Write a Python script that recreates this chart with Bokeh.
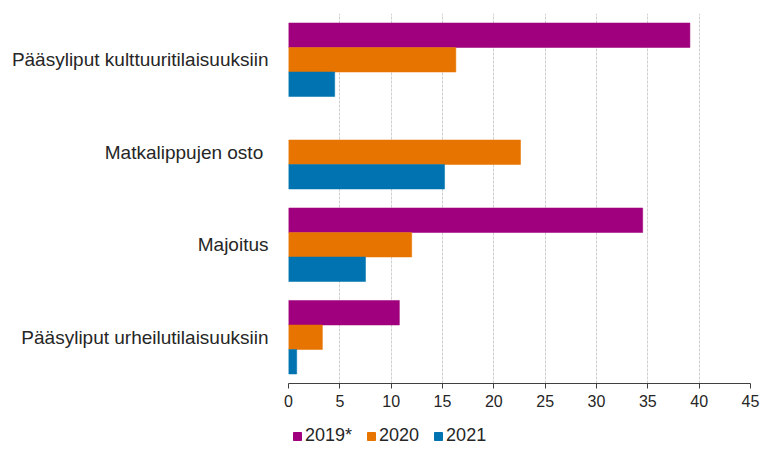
import numpy as np
from bokeh.plotting import figure
from bokeh.layouts import column
from bokeh.models import ColumnDataSource, FactorRange, Range1d, Legend, LegendItem, FixedTicker
from bokeh.transform import dodge
from bokeh.embed import file_html
from bokeh.resources import INLINE

categories = ["Pääsyliput kulttuuritilaisuuksiin", "Matkalippujen osto\u00a0", "Majoitus",
              "Pääsyliput urheilutilaisuuksiin"]
series = ["2019*", "2020", "2021"]
v2019 = np.array([39.1, np.nan, 34.5, 10.8])
v2020 = np.array([16.3, 22.6, 12.0, 3.3])
v2021 = np.array([4.5, 15.2, 7.5, 0.8])
colors = ["#a0007d", "#e87400", "#0073b0"]
x_ticks = [0, 5, 10, 15, 20, 25, 30, 35, 40, 45]

src = ColumnDataSource(dict(cat=categories, v2019=v2019, v2020=v2020, v2021=v2021))

FONT = "Liberation Sans"
p = figure(frame_width=462, frame_height=370, y_range=FactorRange(*reversed(categories)),
           x_range=Range1d(0, 45), output_backend="svg", toolbar_location=None,
           min_border_left=288, min_border_right=13, min_border_top=13, min_border_bottom=0)

bh = 0.265
offsets = [bh, 0.0, -bh]
for col, off, c in zip(["v2019", "v2020", "v2021"], offsets, colors):
    p.hbar(y=dodge("cat", off, range=p.y_range), right=col, left=0, height=bh,
           source=src, fill_color=c, line_color=c, line_alpha=0.5, line_width=1)

p.outline_line_color = None
p.ygrid.grid_line_color = None
p.xgrid.grid_line_color = "#d0d0d0"
p.xgrid.grid_line_dash = "3 1"
p.xgrid.grid_line_width = 1

p.xaxis.ticker = FixedTicker(ticks=x_ticks)
p.xaxis.minor_tick_line_color = None
p.xaxis.major_tick_in = 0
p.xaxis.major_tick_out = 5
p.xaxis.axis_line_color = "#404040"
p.xaxis.major_tick_line_color = "#404040"
p.xaxis.major_label_text_font = FONT
p.xaxis.major_label_text_font_size = "16px"
p.xaxis.major_label_text_color = "#262626"
p.xaxis.major_label_standoff = 6

p.yaxis.axis_line_color = None
p.yaxis.major_tick_line_color = None
p.yaxis.minor_tick_line_color = None
p.yaxis.major_label_text_font = FONT
p.yaxis.major_label_text_font_size = "19px"
p.yaxis.major_label_text_color = "#262626"
p.yaxis.major_label_standoff = 14

# legend strip below the chart (legend glyph carriers sit outside its visible range)
p2 = figure(frame_width=462, frame_height=38, x_range=Range1d(0, 1), y_range=Range1d(0, 1),
            output_backend="svg", toolbar_location=None, x_axis_type=None, y_axis_type=None,
            min_border_left=288, min_border_right=13, min_border_top=0, min_border_bottom=0)
p2.outline_line_color = None
p2.grid.visible = False
leg_renderers = [p2.hbar(y=[-5.0], right=[0.5], left=0, height=0.5, fill_color=c, line_color=c)
                 for c in colors]

legend = Legend(items=[LegendItem(label=s, renderers=[r]) for s, r in zip(series, leg_renderers)],
                orientation="horizontal", location=(4, 1))
legend.border_line_color = None
legend.background_fill_alpha = 0
legend.padding = 0
legend.margin = 0
legend.spacing = 14
legend.glyph_width = 10
legend.glyph_height = 10
legend.label_standoff = 3
legend.label_text_font = FONT
legend.label_text_font_size = "18px"
legend.label_text_color = "#262626"
p2.add_layout(legend, "center")

open("out.html", "w").write(file_html(column(p, p2, spacing=0), INLINE))
